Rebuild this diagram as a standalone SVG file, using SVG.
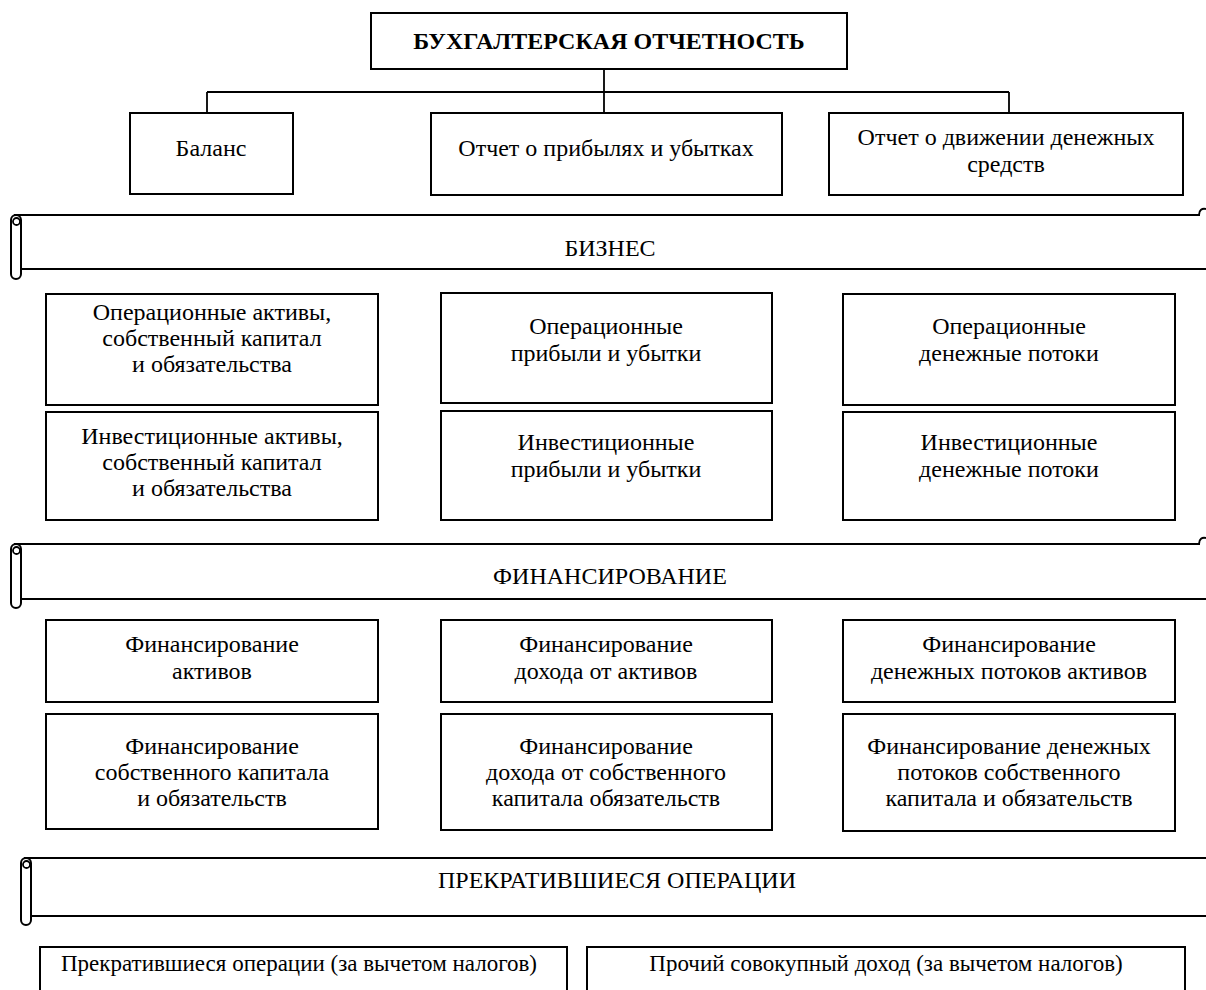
<svg xmlns="http://www.w3.org/2000/svg" width="1206" height="990" viewBox="0 0 1206 990">
<style>
.box{fill:#fff;stroke:#000;stroke-width:2}
.ln{fill:none;stroke:#000;stroke-width:1.8}
.scr{fill:#fff;stroke:#000;stroke-width:2}
.t{font-family:"Liberation Serif","Times New Roman",serif;font-size:24px;fill:#000;text-anchor:middle}
.s{font-size:23px}
.b{font-weight:bold}
</style>
<rect width="1206" height="990" fill="#fff"/>

<g id="connectors">
<path class="ln" d="M604 69V113 M207 92H1009 M207 92V113 M1009 92V113"/>
</g>

<g id="n-root"><rect class="box" x="371" y="13" width="476" height="56"/><text class="t b" x="609" y="49">БУХГАЛТЕРСКАЯ ОТЧЕТНОСТЬ</text></g>
<g id="n-balance"><rect class="box" x="130" y="113" width="163" height="81"/><text class="t" x="211" y="156">Баланс</text></g>
<g id="n-pl"><rect class="box" x="431" y="113" width="351" height="82"/><text class="t" x="606" y="156">Отчет о прибылях и убытках</text></g>
<g id="n-cf"><rect class="box" x="829" y="113" width="354" height="82"/><text class="t" x="1006" y="145">Отчет о движении денежных</text><text class="t" x="1006" y="172">средств</text></g>

<g id="s-business">
<path class="scr" d="M14 215H1199 C1199 210 1202 208 1206 209 M21 269H1206"/>
<path class="scr" d="M11 220V274A5 5 0 0 0 21 274V220A5 5 0 0 0 11 220Z"/>
<circle cx="16.5" cy="221.5" r="3.5" fill="none" stroke="#000" stroke-width="1.8"/>
<text class="t" x="610" y="256">БИЗНЕС</text>
</g>

<g id="n-op-assets"><rect class="box" x="46" y="294" width="332" height="111"/><text class="t" x="212" y="320">Операционные активы,</text><text class="t" x="212" y="346">собственный капитал</text><text class="t" x="212" y="372">и обязательства</text></g>
<g id="n-op-pl"><rect class="box" x="441" y="293" width="331" height="110"/><text class="t" x="606" y="334">Операционные</text><text class="t" x="606" y="361">прибыли и убытки</text></g>
<g id="n-op-cf"><rect class="box" x="843" y="294" width="332" height="111"/><text class="t" x="1009" y="334">Операционные</text><text class="t" x="1009" y="361">денежные потоки</text></g>

<g id="n-inv-assets"><rect class="box" x="46" y="412" width="332" height="108"/><text class="t" x="212" y="444">Инвестиционные активы,</text><text class="t" x="212" y="470">собственный капитал</text><text class="t" x="212" y="496">и обязательства</text></g>
<g id="n-inv-pl"><rect class="box" x="441" y="411" width="331" height="109"/><text class="t" x="606" y="450">Инвестиционные</text><text class="t" x="606" y="477">прибыли и убытки</text></g>
<g id="n-inv-cf"><rect class="box" x="843" y="412" width="332" height="108"/><text class="t" x="1009" y="450">Инвестиционные</text><text class="t" x="1009" y="477">денежные потоки</text></g>

<g id="s-financing">
<path class="scr" d="M14 544H1199 C1199 539 1202 537 1206 538 M21 599H1206"/>
<path class="scr" d="M11 549V603A5 5 0 0 0 21 603V549A5 5 0 0 0 11 549Z"/>
<circle cx="16.5" cy="550.5" r="3.5" fill="none" stroke="#000" stroke-width="1.8"/>
<text class="t" x="610" y="584">ФИНАНСИРОВАНИЕ</text>
</g>

<g id="n-fin-assets"><rect class="box" x="46" y="620" width="332" height="82"/><text class="t" x="212" y="652">Финансирование</text><text class="t" x="212" y="679">активов</text></g>
<g id="n-fin-income"><rect class="box" x="441" y="620" width="331" height="82"/><text class="t" x="606" y="652">Финансирование</text><text class="t" x="606" y="679">дохода от активов</text></g>
<g id="n-fin-cf"><rect class="box" x="843" y="620" width="332" height="82"/><text class="t" x="1009" y="652">Финансирование</text><text class="t" x="1009" y="679">денежных потоков активов</text></g>

<g id="n-fin-eq"><rect class="box" x="46" y="714" width="332" height="115"/><text class="t" x="212" y="754">Финансирование</text><text class="t" x="212" y="780">собственного капитала</text><text class="t" x="212" y="806">и обязательств</text></g>
<g id="n-fin-eq-income"><rect class="box" x="441" y="714" width="331" height="116"/><text class="t" x="606" y="754">Финансирование</text><text class="t" x="606" y="780">дохода от собственного</text><text class="t" x="606" y="806">капитала обязательств</text></g>
<g id="n-fin-eq-cf"><rect class="box" x="843" y="714" width="332" height="117"/><text class="t" x="1009" y="754">Финансирование денежных</text><text class="t" x="1009" y="780">потоков собственного</text><text class="t" x="1009" y="806">капитала и обязательств</text></g>

<g id="s-discontinued">
<path class="scr" d="M24 858H1206 M31 916H1206"/>
<path class="scr" d="M21 863V920A5 5 0 0 0 31 920V863A5 5 0 0 0 21 863Z"/>
<circle cx="26.5" cy="864.5" r="3.5" fill="none" stroke="#000" stroke-width="1.8"/>
<text class="t" x="617" y="888">ПРЕКРАТИВШИЕСЯ ОПЕРАЦИИ</text>
</g>

<g id="n-disc-ops"><rect class="box" x="40" y="947" width="527" height="60"/><text class="t s" x="299" y="971">Прекратившиеся операции (за вычетом налогов)</text></g>
<g id="n-oci"><rect class="box" x="587" y="947" width="598" height="60"/><text class="t s" x="886" y="971">Прочий совокупный доход (за вычетом налогов)</text></g>
</svg>
